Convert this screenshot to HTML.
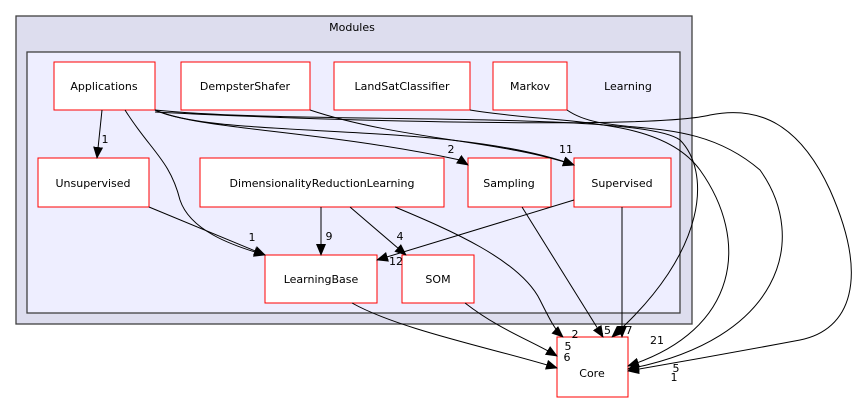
<!DOCTYPE html>
<html><head><meta charset="utf-8"><style>body{margin:0;background:#fff}svg{display:block}</style></head><body>
<svg width="867" height="404" viewBox="0 0 867 404" xmlns="http://www.w3.org/2000/svg" font-family="DejaVu Sans, Liberation Sans, sans-serif" font-size="11">
<defs><marker id="a" markerWidth="12" markerHeight="10" refX="11" refY="5" orient="auto" markerUnits="userSpaceOnUse"><path d="M0,0 L12,5 L0,10 z" fill="#000"/></marker></defs>
<rect x="16" y="16" width="676" height="308" fill="#ddddee" stroke="#404040" stroke-width="1.3"/>
<text x="352" y="31" text-anchor="middle" font-size="11">Modules</text>
<rect x="27" y="52" width="653" height="261" fill="#eeeeff" stroke="#404040" stroke-width="1.3"/>
<text x="628" y="90" text-anchor="middle" font-size="11">Learning</text>
<g fill="#fff" stroke="#ff0000" stroke-width="1">
<rect x="54" y="62" width="101" height="48"/><rect x="181" y="62" width="129" height="48"/>
<rect x="334" y="62" width="136" height="48"/><rect x="493" y="62" width="74" height="48"/>
<rect x="38" y="158" width="111" height="49"/><rect x="200" y="158" width="244" height="49"/>
<rect x="468" y="158" width="83" height="49"/><rect x="574" y="158" width="97" height="49"/>
<rect x="265" y="255" width="112" height="48"/><rect x="402" y="255" width="72" height="48"/>
<rect x="557" y="337" width="71" height="60"/>
</g>
<g text-anchor="middle" font-size="11">
<text x="104" y="90">Applications</text><text x="245" y="90">DempsterShafer</text>
<text x="402" y="90">LandSatClassifier</text><text x="530" y="90">Markov</text>
<text x="93" y="187">Unsupervised</text><text x="322" y="187">DimensionalityReductionLearning</text>
<text x="509" y="187">Sampling</text><text x="622" y="187">Supervised</text>
<text x="321" y="283">LearningBase</text><text x="438" y="283">SOM</text>
<text x="592" y="377">Core</text>
</g>
<g fill="none" stroke="#000" stroke-width="1" marker-end="url(#a)">
<path d="M102,110 L97,158"/>
<path d="M125,110 C150,150 170,160 180,200 C190,230 230,245 265,255"/>
<path d="M149,207 L265,255"/>
<path d="M155,110 C200,130 320,130 460,160 L468,165"/>
<path d="M155,110 C220,140 450,120 574,165"/>
<path d="M155,110 C300,125 640,110 680,140 C710,170 710,250 612,337"/>
<path d="M310,110 C400,140 500,140 574,165"/>
<path d="M470,110 C560,125 660,115 700,170 C750,240 740,330 628,366"/>
<path d="M567,110 C610,140 690,110 760,170 C810,240 780,340 628,369"/>
<path d="M155,112 C300,120 650,130 710,115 C760,105 800,125 830,190 C870,280 850,330 800,340 C720,355 680,362 628,371"/>
<path d="M321,207 L321,255"/>
<path d="M350,207 L406,255"/>
<path d="M395,207 C450,230 520,260 540,300 C550,320 555,330 563,337"/>
<path d="M574,200 L377,260"/>
<path d="M622,207 L622,337"/>
<path d="M522,207 L603,337"/>
<path d="M352,303 C400,330 500,350 557,368"/>
<path d="M465,303 C500,330 530,340 557,356"/>
</g>
<g font-size="11" text-anchor="middle">
<text x="105" y="143">1</text><text x="252" y="241">1</text><text x="451" y="153">2</text>
<text x="566" y="153">11</text><text x="329" y="240">9</text><text x="400" y="240">4</text>
<text x="396" y="265">12</text><text x="575" y="338">2</text><text x="568" y="350">5</text>
<text x="567" y="361">6</text><text x="604" y="334">15</text><text x="629" y="334">7</text>
<text x="657" y="344">21</text><text x="676" y="372">5</text><text x="674" y="381">1</text>
</g>
</svg>
</body></html>
